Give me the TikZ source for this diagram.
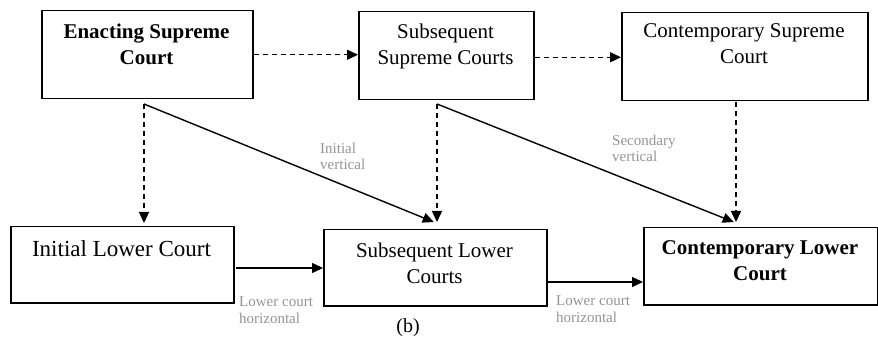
\documentclass[tikz,border=0pt]{standalone}
\usepackage{fontspec}
\setmainfont{Liberation Serif}
\usetikzlibrary{arrows.meta,positioning,calc}

\begin{document}
\begin{tikzpicture}[x=1pt,y=-1pt,
  court/.style={draw, line width=1.5pt, inner sep=0pt, anchor=north west},
  courttext/.style={anchor=north, align=center, inner sep=0pt, font=\fontsize{21}{26}\selectfont},
  note/.style={anchor=north west, align=left, inner sep=0pt, text=black!42, font=\fontsize{15}{16.5}\selectfont},
  link/.style={line width=1.4pt, -{Triangle[length=11pt,width=10pt]}},
  hint/.style={link, dash pattern=on 5.5pt off 3.5pt}]
\useasboundingbox (0,0) rectangle (878,339);
% supreme courts
\node[court, minimum width=211pt, minimum height=88pt] (esc) at (41,10) {};
\node[court, minimum width=175pt, minimum height=88pt] (ssc) at (358,11) {};
\node[court, minimum width=246pt, minimum height=88pt] (csc) at (621,12) {};
\node[courttext, font=\fontsize{21}{26}\selectfont\bfseries] (esct) at (146.5,23.7) {Enacting Supreme\\Court};
\node[courttext] (ssct) at (445.5,23.7) {Subsequent\\Supreme Courts};
\node[courttext] (csct) at (744,23.7) {Contemporary Supreme\\Court};
% lower courts
\node[court, minimum width=223pt, minimum height=76pt] (ilc) at (10,226) {};
\node[court, minimum width=223pt, minimum height=76pt] (slc) at (323,229) {};
\node[court, minimum width=234pt, minimum height=77pt] (clc) at (643,227) {};
\node[courttext, font=\fontsize{23}{28}\selectfont] (ilct) at (121.5,240.3) {Initial Lower Court};
\node[courttext] (slct) at (434.5,242.7) {Subsequent Lower\\Courts};
\node[courttext, font=\fontsize{21}{26}\selectfont\bfseries] (clct) at (760,240.7) {Contemporary Lower\\Court};
% connectors
\coordinate (v1) at (144,104);
\coordinate (v2) at (437,104);
\coordinate (v3) at (736,102);
\coordinate (h1) at (236,268);
\coordinate (h2) at (547,282);
\draw[hint] (esc.east) -- (esc.east -| ssc.west);
\draw[hint] ([yshift=-1.5pt]ssc.east) -- ([yshift=-1.5pt]ssc.east -| csc.west);
\draw[hint, shorten >=3pt] (v1) -- (v1 |- ilc.north);
\draw[hint, shorten >=7pt] (v2) -- (v2 |- slc.north);
\draw[hint, shorten >=5pt] (v3) -- (v3 |- clc.north);
\draw[link] (v1) -- ([xshift=-1.5pt,yshift=7pt]slc.north);
\draw[link] (v2) -- ([xshift=-27pt,yshift=5pt]clc.north);
\draw[link] (h1) -- (h1 -| slc.west);
\draw[link] (h2) -- (h2 -| clc.west);
% labels
\node[note] (iv) at (320,142.8) {Initial\\vertical};
\node[note] (sv) at (612,134.8) {Secondary\\vertical};
\node[note] (lh1) at (239,296.8) {Lower court\\horizontal};
\node[note] (lh2) at (556,295.8) {Lower court\\horizontal};
\node[anchor=base, inner sep=0pt, font=\fontsize{20}{24}\selectfont] (sub) at (408,332) {(b)};
\end{tikzpicture}
\end{document}
